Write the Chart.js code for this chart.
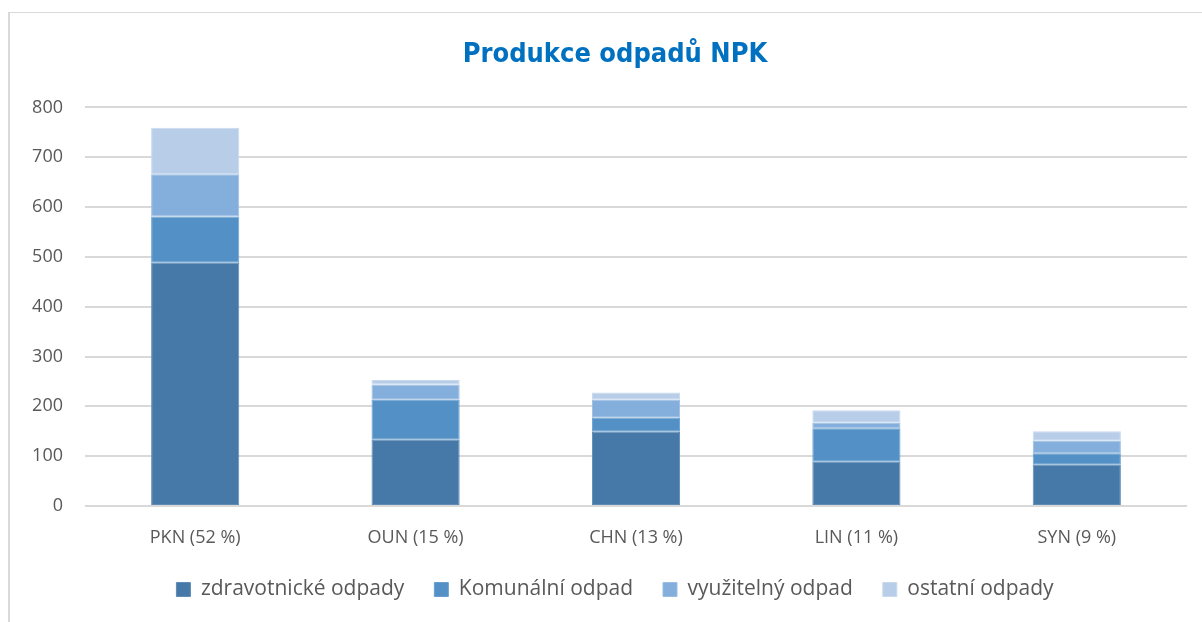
<!DOCTYPE html>
<html>
<head>
<meta charset="utf-8">
<script src="https://cdn.jsdelivr.net/npm/chart.js@4.4.1/dist/chart.umd.min.js"></script>
<style>
    html, body { margin: 0; padding: 0; background: #fff; overflow: hidden; }
    #frame {
        position: absolute; left: 8px; top: 12px; width: 1230px; height: 630px;
        border-left: 2px solid #d9d9d9; border-top: 1px solid #d9d9d9;
    }
    /* the original chart box runs past the right edge of the window */
    #wrap { position: absolute; left: 0; top: 0; width: 1230px; height: 622px; }
</style>
</head>
<body>
<div id="frame"></div>
<div id="wrap"><canvas id="chart"></canvas></div>
<script>
// Categories (x axis)
const categories = ['PKN (52 %)', 'OUN (15 %)', 'CHN (13 %)', 'LIN (11 %)', 'SYN (9 %)'];

// Series values
const zdravotnicke = [488, 133, 149, 89, 83];
const komunalni = [93, 80, 28, 67, 23];
const vyuzitelny = [85, 31, 36, 11, 25];
const ostatni = [93, 9, 15, 25, 19];

// Y tick range
const yMin = 0;
const yMax = 800;
const yStep = 100;

const seriesNames = ['zdravotnické odpady', 'Komunální odpad', 'využitelný odpad', 'ostatní odpady'];
const seriesColors = ['#4679a8', '#5390c6', '#84aedb', '#b8cee8'];
const seriesEdges = ['#5f8bb4', '#6aa0cf', '#9bbde2', '#c8d9ee'];
const seriesData = [zdravotnicke, komunalni, vyuzitelny, ostatni];

const textColor = '#595959';
const gridColor = '#d9d9d9';

const datasets = seriesData.map((values, i) => ({
    label: seriesNames[i],
    data: values,
    backgroundColor: seriesColors[i],
    borderColor: seriesEdges[i],
    borderWidth: 1,
    borderSkipped: false,
    categoryPercentage: 0.8,
    barPercentage: 0.5
}));

new Chart(document.getElementById('chart'), {
    type: 'bar',
    data: { labels: categories, datasets: datasets },
    options: {
        responsive: true,
        maintainAspectRatio: false,
        animation: false,
        layout: { padding: { left: 0, right: 0, top: 16, bottom: 12 } },
        scales: {
            x: {
                stacked: true,
                grid: { display: false },
                border: { display: false },
                ticks: {
                    color: textColor,
                    font: { family: 'Open Sans', size: 18 },
                    padding: 13
                },
                afterFit: function(scale) {
                    scale.height = 43;
                }
            },
            y: {
                stacked: true,
                min: yMin,
                max: yMax,
                grid: { color: gridColor, lineWidth: 2, drawTicks: false },
                border: { display: false },
                ticks: {
                    stepSize: yStep,
                    color: textColor,
                    font: { family: 'Open Sans', size: 18 },
                    padding: 22
                },
                afterFit: function(scale) {
                    scale.width = 85;
                }
            },
            // empty right margin so title and legend stay centred on the whole box
            spacer: {
                position: 'right',
                grid: { display: false },
                border: { display: false },
                ticks: { display: false },
                afterFit: function(scale) {
                    scale.width = 43;
                }
            }
        },
        plugins: {
            title: {
                display: true,
                text: 'Produkce odpadů NPK',
                color: '#0070c0',
                font: { family: 'DejaVu Sans Condensed', size: 27, weight: 'bold' },
                padding: { top: 23, bottom: 36 }
            },
            legend: {
                position: 'bottom',
                labels: {
                    color: textColor,
                    font: { family: 'Open Sans', size: 21 },
                    boxWidth: 14,
                    boxHeight: 14,
                    padding: 30
                }
            },
            tooltip: { enabled: false }
        }
    }
});
</script>
</body>
</html>
